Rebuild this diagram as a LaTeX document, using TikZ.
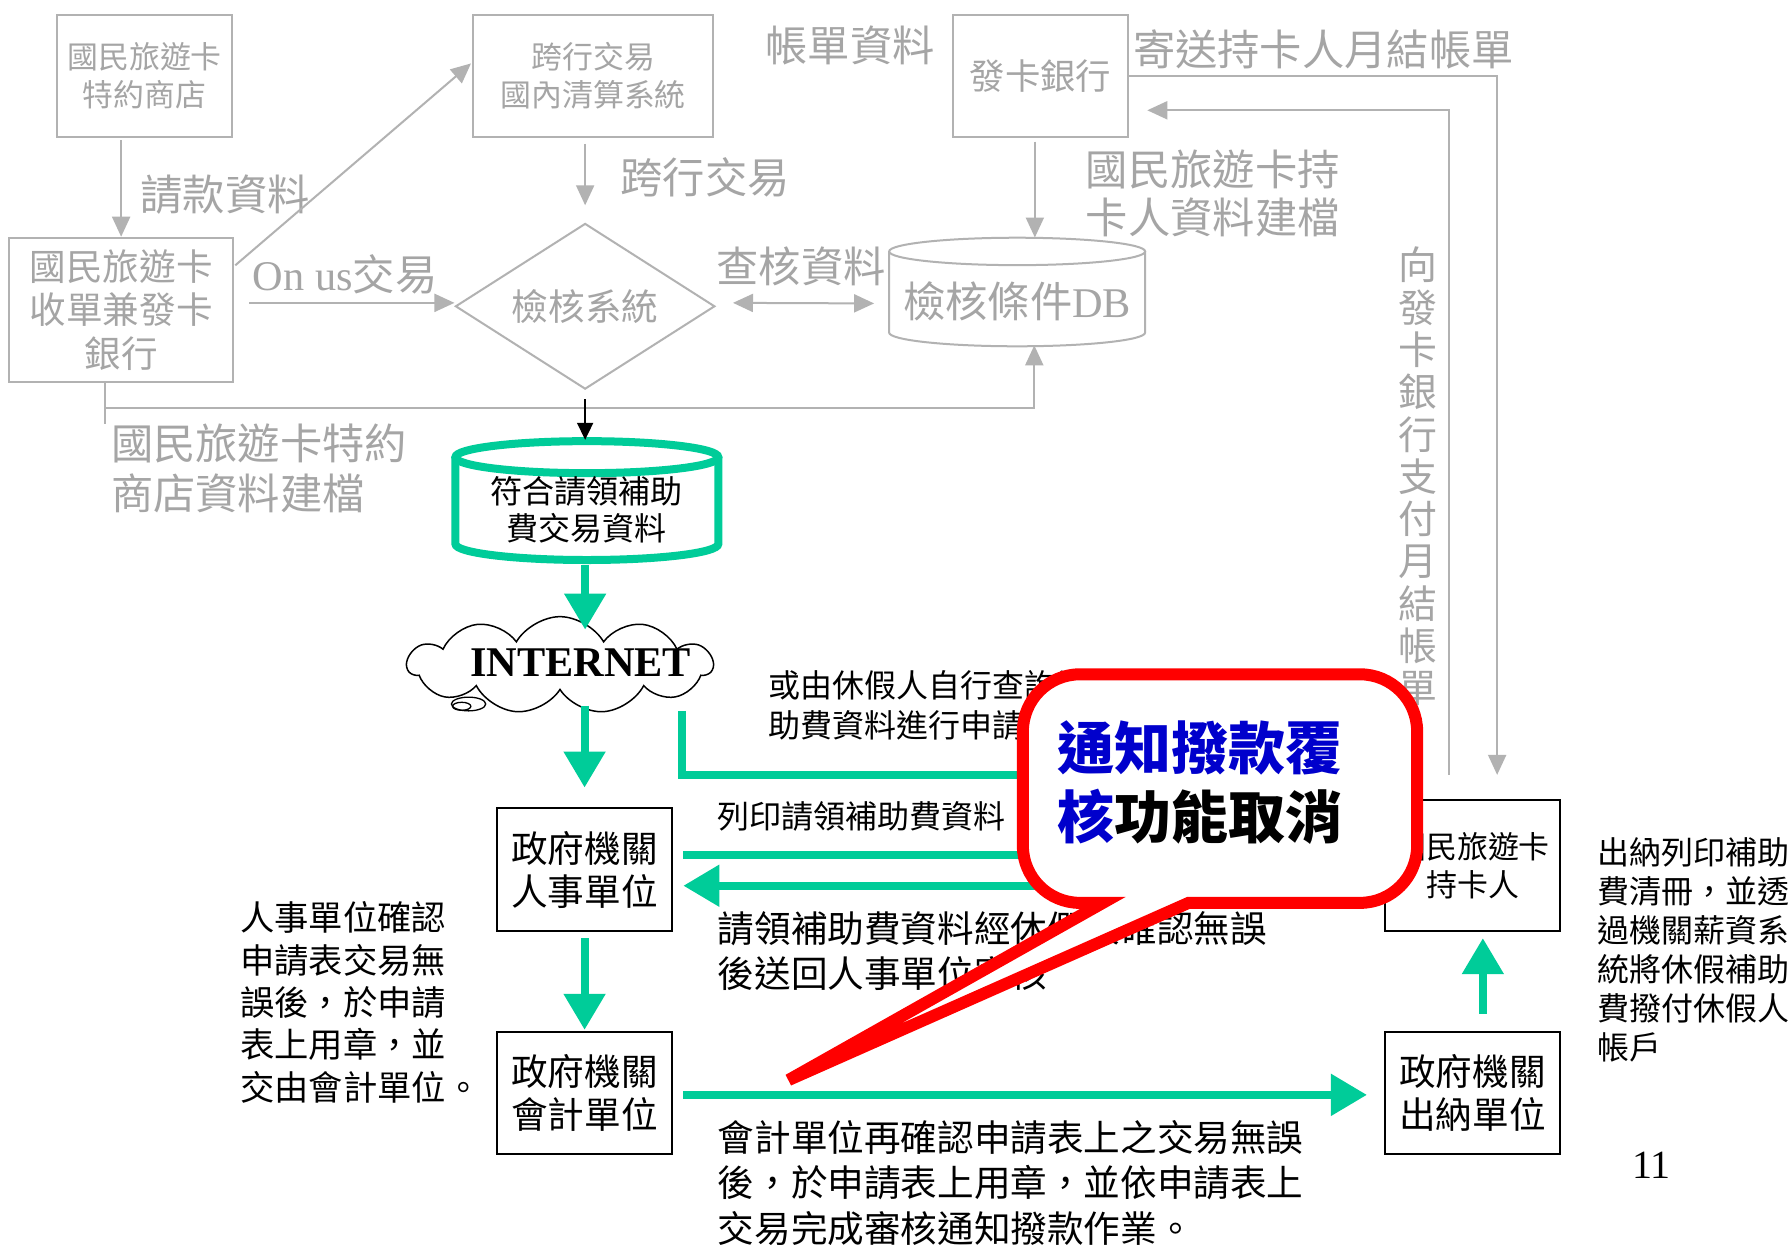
\documentclass[tikz,border=0pt]{standalone}
\usepackage{fontspec}
\setmainfont{Liberation Serif}
\newfontfamily\tc{Noto Sans CJK TC}
\usetikzlibrary{arrows.meta,shapes.geometric,shapes.symbols,calc}
\definecolor{lgline}{RGB}{178,178,178}
\definecolor{lgtext}{RGB}{165,165,165}
\definecolor{grn}{RGB}{0,204,153}
\definecolor{cblue}{RGB}{0,0,204}
\newcommand\FS[2]{\fontsize{#1pt}{#2pt}\selectfont}
\begin{document}
\begin{tikzpicture}[x=1.142857pt,y=-1.142857pt,
  gbox/.style={draw=lgline,line width=2pt,inner sep=0pt,text=lgtext,align=center},
  bbox/.style={draw=black,line width=2pt,inner sep=0pt,text=black,align=center},
  glabel/.style={text=lgtext,inner sep=0pt},
  blabel/.style={text=black,inner sep=0pt},
  garrow/.style={draw=lgline,line width=2pt,-{Triangle[length=20pt,width=18pt]}},
  gline/.style={draw=lgline,line width=2pt},
  grarrow/.style={draw=grn,line width=8pt,-{Triangle[length=36pt,width=40pt]}},
  grline/.style={draw=grn,line width=8pt},
  frame/.style={inner sep=0pt},
]
\useasboundingbox (0,0) rectangle (1568,1089);
\fill[white] (0,0) rectangle (1568,1089);

% ---------- gray upper part ----------
\node[gbox, minimum width=174.9pt, minimum height=122.3pt, font=\tc\FS{30.9}{37.7}] (A) at (126.5,66.5) {國民旅遊卡\\特約商店};
\node[gbox, minimum width=240pt, minimum height=122.3pt, font=\tc\FS{30.9}{37.7}] (B) at (519,66.5) {跨行交易\\國內清算系統};
\node[gbox, minimum width=174.9pt, minimum height=122.3pt, font=\tc\FS{35.4}{40}] (C) at (910.5,66.5) {發卡銀行};
\node[gbox, minimum width=224pt, minimum height=144pt, font=\tc\FS{36.6}{43.4}] (D) at (106,271) {國民旅遊卡\\收單兼發卡\\銀行};
\node[draw=lgline, line width=2pt, diamond, aspect=1.566, minimum width=259.4pt, minimum height=165.7pt, inner sep=0pt, text=lgtext, font=\tc\FS{36.6}{40}] (dia) at (512,268) {檢核系統};

% DB cylinder
\node[frame, minimum width=256pt, minimum height=108.6pt] (db) at (890,255.5) {};
\draw[gline] (890,220) ellipse [x radius=112, y radius=12];
\draw[gline] (778,220) -- (778,291) arc[start angle=180, end angle=0, x radius=112, y radius=12] -- (1002,220);
\node[glabel, font=\FS{42.3}{45}] (dbt) at (890,264) {{\tc 檢核條件}DB};

% gray labels
\node[glabel, font=\tc\FS{42.3}{45}] (l1) at (197,170) {請款資料};
\node[glabel, font=\tc\FS{42.3}{45}] (l2) at (617,155) {跨行交易};
\node[glabel, font=\tc\FS{42.3}{45}] (l3) at (744,40) {帳單資料};
\node[glabel, font=\tc\FS{42.3}{45}] (l4) at (1158,43) {寄送持卡人月結帳單};
\node[glabel, align=left, anchor=west, font=\tc\FS{42.3}{48}] (l5) at (950,169) {國民旅遊卡持\\卡人資料建檔};
\node[glabel, font=\tc\FS{42.3}{45}] (l6) at (701,233) {查核資料};
\node[glabel, font=\FS{42.3}{45}] (l7) at (302,240) {On us{\tc 交易}};
\node[glabel, align=left, anchor=west, font=\tc\FS{42.3}{50.3}] (l8) at (97,410) {國民旅遊卡特約\\商店資料建檔};
\node[glabel, align=center, anchor=north, font=\tc\FS{38.9}{42.3}] (l9) at (1241,216) {向\\發\\卡\\銀\\行\\支\\付\\月\\結\\帳\\單};

% gray connectors
\draw[garrow] ($(A.south -| D.north)+(0,2)$) -- (D.north);
\draw[garrow] ($(D.north east)+(1,25)$) -- ($(B.west)+(-1,-11)$);
\draw[garrow] ($(D.east)+(13,-6)$) -- ($(dia.west)+(0,-3)$);
\draw[garrow] ($(B.south -| dia.north)+(0,5)$) -- ($(dia.north)+(0,-15)$);
\draw[draw=lgline, line width=2pt, {Triangle[length=20pt,width=18pt]}-{Triangle[length=20pt,width=18pt]}] ($(dia.east)+(15,-3)$) -- ($(db.west)+(-13,10)$);
\coordinate (c1) at ($(C.south)+(-5,0)$);
\draw[garrow] ($(c1)+(0,3)$) -- (c1 |- db.north);
\coordinate (d1) at ($(D.south)+(-14,0)$);
\draw[gline] (d1) -- ++(0,36);
\draw[garrow] ($(d1)+(0,22)$) -| ($(db.south)+(15,-1)$);
\coordinate (k1) at (1310,678);
\coordinate (k2) at (1268,678);
\coordinate (c2) at ($(C.east)+(16,30)$);
\draw[garrow] (C.east) -| (k1);
\draw[garrow] (k2) |- (c2);

% ---------- black / green lower part ----------
% green cylinder
\node[frame, minimum width=270.9pt, minimum height=121.1pt] (gc) at (513.5,438) {};
\draw[grline] (513.5,400) ellipse [x radius=115, y radius=14];
\draw[grline] (398.5,400) -- (398.5,476) arc[start angle=180,end angle=0,x radius=115,y radius=14] -- (628.5,400);
\node[blabel, align=center, font=\tc\FS{32}{36.6}] (gct) at (513,446) {符合請領補助\\費交易資料};
\draw[draw=black, line width=1.8pt, -{Triangle[length=17pt,width=16pt]}] ($(dia.south)+(0,8)$) -- (dia.south |- gc.north);

% cloud
\node[cloud, cloud puffs=11, cloud puff arc=120, aspect=3.2, draw=black, line width=1.5pt, minimum width=305pt, minimum height=97pt, inner sep=0pt] (net) at (490,582) {};
\draw[line width=1.3pt] (410,616) ellipse [x radius=15, y radius=6];
\draw[line width=1.3pt] (404,618) ellipse [x radius=8, y radius=3.5];
\node[font=\bfseries\FS{42.3}{45}, inner sep=0pt] (nett) at (508,580) {INTERNET};

% boxes
\node[bbox, minimum width=174.9pt, minimum height=123.4pt, font=\tc\FS{36.6}{43.4}] (P) at (511.5,761) {政府機關\\人事單位};
\node[bbox, minimum width=174.9pt, minimum height=122.3pt, font=\tc\FS{36.6}{43.4}] (Q) at (511.5,956.5) {政府機關\\會計單位};
\node[bbox, minimum width=174.9pt, minimum height=131.4pt, font=\tc\FS{30.9}{37.7}] (K) at (1288.5,757.5) {國民旅遊卡\\持卡人};
\node[bbox, minimum width=174.9pt, minimum height=122.3pt, font=\tc\FS{36.6}{43.4}] (R) at (1288.5,956.5) {政府機關\\出納單位};

% black labels
\node[blabel, align=left, anchor=west, font=\tc\FS{32}{40}] (m1) at (672,617) {或由休假人自行查詢補\\助費資料進行申請};
\node[blabel, anchor=west, font=\tc\FS{32}{36}] (m2) at (628,714) {列印請領補助費資料};
\node[blabel, align=left, anchor=west, font=\tc\FS{36.6}{45.7}] (m3) at (628,832) {請領補助費資料經休假人確認無誤\\後送回人事單位審核};
\node[blabel, align=left, anchor=west, font=\tc\FS{34.3}{42.3}] (m4) at (210,877) {人事單位確認\\申請表交易無\\誤後，於申請\\表上用章，並\\交由會計單位。};
\node[blabel, align=left, anchor=west, font=\tc\FS{36.6}{45.7}] (m5) at (628,1035) {會計單位再確認申請表上之交易無誤\\後，於申請表上用章，並依申請表上\\交易完成審核通知撥款作業。};
\node[blabel, align=left, anchor=west, font=\tc\FS{32}{38.9}] (m6) at (1398,831) {出納列印補助\\費清冊，並透\\過機關薪資系\\統將休假補助\\費撥付休假人\\帳戶};
\node[blabel, font=\FS{40}{42}] (pg) at (1445,1020) {11};

% green connectors
\draw[grarrow] ($(gc.south -| dia.south)+(0,3)$) -- ($(net.north -| dia.south)+(0,12)$);
\draw[grarrow] ($(net.south -| P.north)+(0,13)$) -- ($(P.north)+(0,-17)$);
\coordinate (n1) at (597,622);
\coordinate (n2) at (1060,678);
\draw[grline] (n1) |- (n2);
\draw[grline] ($(P.east)+(9,-13)$) -- ++(420,0);
\draw[grarrow] ($(P.east)+(430,14)$) -- ($(P.east)+(9,14)$);
\draw[grarrow] ($(P.south)+(0,5)$) -- ($(Q.north)+(0,-1)$);
\draw[grarrow] ($(Q.east)+(9,1.5)$) -- ($(R.west)+(-15,1.5)$);
\draw[grarrow] ($(R.north)+(9,-15)$) -- ($(K.south)+(9,5)$);

% callout
\draw[draw=red, line width=12pt, fill=white, line join=miter] (965,790) -- (690,945) -- (1040,790) -- (1190,790) arc[start angle=90,end angle=0,radius=50] -- (1240,640) arc[start angle=0,end angle=-90,radius=50] -- (945,590) arc[start angle=-90,end angle=-180,radius=50] -- (895,740) arc[start angle=180,end angle=90,radius=50] -- cycle;
\node[font=\tc\bfseries\FS{57}{68.6}, align=left, anchor=west, inner sep=0pt] (co) at (925,685) {\textcolor{cblue}{通知撥款覆}\\\textcolor{cblue}{核}功能取消};
\end{tikzpicture}
\end{document}
